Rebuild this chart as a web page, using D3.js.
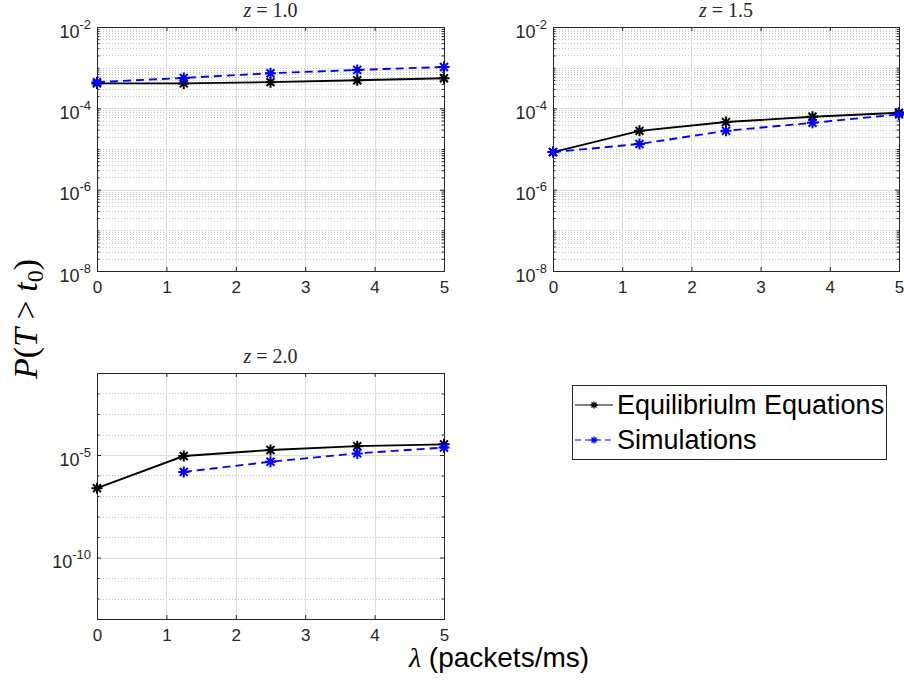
<!DOCTYPE html>
<html>
<head>
<meta charset="utf-8">
<script src="https://cdn.jsdelivr.net/npm/d3@7"></script>
<style>
  body { margin: 0; background: #fff; }
  svg { display: block; font-family: "Liberation Sans", Arial, sans-serif; }
</style>
</head>
<body>
<svg id="chart" width="904" height="680"></svg>
<script>
// values
var lambda = [0, 1.25, 2.5, 3.75, 5];

var eqZ10  = [4.1e-4, 4.1e-4, 4.4e-4, 4.9e-4, 5.5e-4];
var simZ10 = [4.4e-4, 5.6e-4, 7.3e-4, 8.8e-4, 1.04e-3];

var eqZ15  = [8.4e-6, 2.8e-5, 4.6e-5, 6.2e-5, 7.8e-5];
var simZ15 = [8.4e-6, 1.33e-5, 2.8e-5, 4.4e-5, 7.1e-5];

var eqZ20  = [2.4e-7, 8.9e-6, 1.76e-5, 2.7e-5, 3.3e-5];
var simZ20 = [null, 1.5e-6, 4.7e-6, 1.2e-5, 2.3e-5];

var xTicks = [0, 1, 2, 3, 4, 5];
var yTicksTop = [1e-8, 1e-6, 1e-4, 1e-2];
var yTicksBottom = [1e-10, 1e-5];
var zValues = ["1.0", "1.5", "2.0"];
var seriesNames = ["Equilibriulm Equations", "Simulations"];

// layout of the three axes
var panels = [
  {left: 97,  top: 27,  width: 347, height: 244, yDomain: [1e-8, 1e-2],  yTicks: yTicksTop,    z: zValues[0], eq: eqZ10, sim: simZ10},
  {left: 553, top: 27,  width: 346, height: 244, yDomain: [1e-8, 1e-2],  yTicks: yTicksTop,    z: zValues[1], eq: eqZ15, sim: simZ15},
  {left: 97,  top: 373, width: 347, height: 246, yDomain: [1e-13, 1e-1], yTicks: yTicksBottom, z: zValues[2], eq: eqZ20, sim: simZ20}
];

var axisColor = "#262626";
var sansFont = "'Liberation Sans', Arial, sans-serif";
var serifFont = "'Liberation Serif', 'DejaVu Serif', serif";
var svg = d3.select("#chart");

function starPath(r) {
  var d = r * 0.72;
  return "M" + (-r) + ",0L" + r + ",0M0," + (-r) + "L0," + r +
         "M" + (-d) + "," + (-d) + "L" + d + "," + d +
         "M" + (-d) + "," + d + "L" + d + "," + (-d);
}

panels.forEach(function(p) {
  var x = d3.scaleLinear().domain([0, 5]).range([0, p.width]);
  var y = d3.scaleLog().domain(p.yDomain).range([p.height, 0]);

  var g = svg.append("g")
    .attr("transform", "translate(" + p.left + "," + p.top + ")");

  // minor grid (dotted)
  var majorSet = p.yTicks.map(function(v) { return Math.round(Math.log10(v)); });
  var minor = y.ticks().filter(function(v) {
    var l = Math.log10(v);
    return !(Math.abs(l - Math.round(l)) < 1e-9 && majorSet.indexOf(Math.round(l)) >= 0);
  });

  g.append("g").selectAll("line")
    .data(minor)
    .enter().append("line")
    .attr("x1", 0).attr("x2", p.width)
    .attr("y1", function(d) { return Math.round(y(d)) + 0.5; })
    .attr("y2", function(d) { return Math.round(y(d)) + 0.5; })
    .attr("stroke", "#b8b8b8")
    .attr("stroke-width", 0.8)
    .attr("stroke-dasharray", "1,2");

  // major grid
  g.append("g").selectAll("line")
    .data(p.yTicks)
    .enter().append("line")
    .attr("x1", 0).attr("x2", p.width)
    .attr("y1", function(d) { return Math.round(y(d)) + 0.5; })
    .attr("y2", function(d) { return Math.round(y(d)) + 0.5; })
    .attr("stroke", "#dedede");

  g.append("g").selectAll("line")
    .data(xTicks.slice(1, -1))
    .enter().append("line")
    .attr("y1", 0).attr("y2", p.height)
    .attr("x1", function(d) { return Math.round(x(d)) + 0.5; })
    .attr("x2", function(d) { return Math.round(x(d)) + 0.5; })
    .attr("stroke", "#dedede");

  // axes with inward ticks
  var xAxis = g.append("g")
    .attr("transform", "translate(0," + p.height + ")")
    .call(d3.axisBottom(x).tickValues(xTicks).tickFormat(d3.format("d"))
      .tickSizeInner(-4).tickSizeOuter(0).tickPadding(10));
  xAxis.attr("font-family", sansFont);
  xAxis.selectAll("text").attr("font-size", "17px").attr("fill", axisColor);

  g.append("g")
    .call(d3.axisTop(x).tickValues(xTicks).tickSizeInner(-4).tickSizeOuter(0).tickFormat(""));

  var yAxis = g.append("g")
    .call(d3.axisLeft(y).tickValues(p.yTicks).tickSizeInner(-4).tickSizeOuter(0).tickPadding(6).tickFormat(""));
  yAxis.attr("font-family", sansFont);

  yAxis.selectAll(".tick text")
    .attr("font-size", "18px")
    .attr("fill", axisColor)
    .attr("dy", "0.56em")
    .each(function(d) {
      var t = d3.select(this);
      t.append("tspan").text("10");
      t.append("tspan")
        .attr("dy", -9)
        .attr("font-size", "13px")
        .text(Math.round(Math.log10(d)));
    });

  g.append("g")
    .attr("transform", "translate(" + p.width + ",0)")
    .call(d3.axisRight(y).tickValues(p.yTicks).tickSizeInner(-4).tickSizeOuter(0).tickFormat(""));

  // minor ticks on log axis
  g.append("g")
    .call(d3.axisLeft(y).tickValues(minor).tickSizeInner(-2.5).tickSizeOuter(0).tickFormat(""));
  g.append("g")
    .attr("transform", "translate(" + p.width + ",0)")
    .call(d3.axisRight(y).tickValues(minor).tickSizeInner(-2.5).tickSizeOuter(0).tickFormat(""));

  g.selectAll(".domain").remove();
  g.selectAll(".tick line").attr("stroke", axisColor);

  g.append("rect")
    .attr("x", 0.5).attr("y", 0.5)
    .attr("width", p.width).attr("height", p.height)
    .attr("fill", "none")
    .attr("stroke", axisColor)
    .attr("stroke-width", 1);

  // title
  var title = g.append("text")
    .attr("x", p.width / 2)
    .attr("y", -10)
    .attr("text-anchor", "middle")
    .attr("font-family", serifFont)
    .attr("font-size", "20px")
    .attr("fill", axisColor)
    .attr("xml:space", "preserve");
  title.append("tspan").attr("font-style", "italic").text("z");
  title.append("tspan").text(" = " + p.z);

  // series
  var line = d3.line()
    .defined(function(d) { return d.v != null; })
    .x(function(d) { return x(d.x); })
    .y(function(d) { return y(d.v); });

  var series = [
    {values: p.eq,  color: "#000000", dash: null},
    {values: p.sim, color: "#0000ff", dash: "8,5"}
  ];

  series.forEach(function(s) {
    var pts = lambda.map(function(l, i) { return {x: l, v: s.values[i]}; });

    g.append("path")
      .datum(pts)
      .attr("fill", "none")
      .attr("stroke", s.color)
      .attr("stroke-width", 1.9)
      .attr("stroke-dasharray", s.dash)
      .attr("d", line);

    g.append("g").selectAll("path")
      .data(pts.filter(function(d) { return d.v != null; }))
      .enter().append("path")
      .attr("transform", function(d) { return "translate(" + x(d.x) + "," + y(d.v) + ")"; })
      .attr("d", starPath(5.5))
      .attr("fill", "none")
      .attr("stroke", s.color)
      .attr("stroke-width", 2);
  });
});

// legend
var legend = svg.append("g").attr("transform", "translate(572,385)");
legend.append("rect")
  .attr("x", 0.5).attr("y", 0.5)
  .attr("width", 314).attr("height", 74)
  .attr("fill", "#fff")
  .attr("stroke", axisColor);

var legendStyles = [
  {color: "#000000", dash: null},
  {color: "#0000ff", dash: "6,4"}
];

seriesNames.forEach(function(name, i) {
  var ly = 20 + i * 35;
  legend.append("line")
    .attr("x1", 3).attr("x2", 41)
    .attr("y1", ly).attr("y2", ly)
    .attr("stroke", legendStyles[i].color)
    .attr("stroke-width", 1.2)
    .attr("stroke-dasharray", legendStyles[i].dash);
  legend.append("path")
    .attr("transform", "translate(22," + ly + ")")
    .attr("d", starPath(3.5))
    .attr("stroke", legendStyles[i].color)
    .attr("stroke-width", 1.3);
  legend.append("text")
    .attr("x", 45)
    .attr("y", ly)
    .attr("dy", "0.35em")
    .attr("font-size", "27px")
    .attr("fill", "#000")
    .text(name);
});

// shared axis labels
var xLabel = svg.append("text")
  .attr("x", 499)
  .attr("y", 667)
  .attr("text-anchor", "middle")
  .attr("font-size", "28px")
  .attr("fill", "#000");
xLabel.append("tspan")
  .attr("font-family", serifFont)
  .attr("font-style", "italic")
  .text("\u03bb");
xLabel.append("tspan").text(" (packets/ms)");

var yLabel = svg.append("text")
  .attr("transform", "translate(37,319) rotate(-90)")
  .attr("text-anchor", "middle")
  .attr("font-family", serifFont)
  .attr("font-size", "34px")
  .attr("fill", "#000")
  .attr("xml:space", "preserve");
yLabel.append("tspan").attr("font-style", "italic").text("P");
yLabel.append("tspan").text("(");
yLabel.append("tspan").attr("font-style", "italic").text("T");
yLabel.append("tspan").text(" > ");
yLabel.append("tspan").attr("font-style", "italic").text("t");
yLabel.append("tspan").attr("font-size", "24px").attr("dy", 6).text("0");
yLabel.append("tspan").attr("dy", -6).text(")");
</script>
</body>
</html>
